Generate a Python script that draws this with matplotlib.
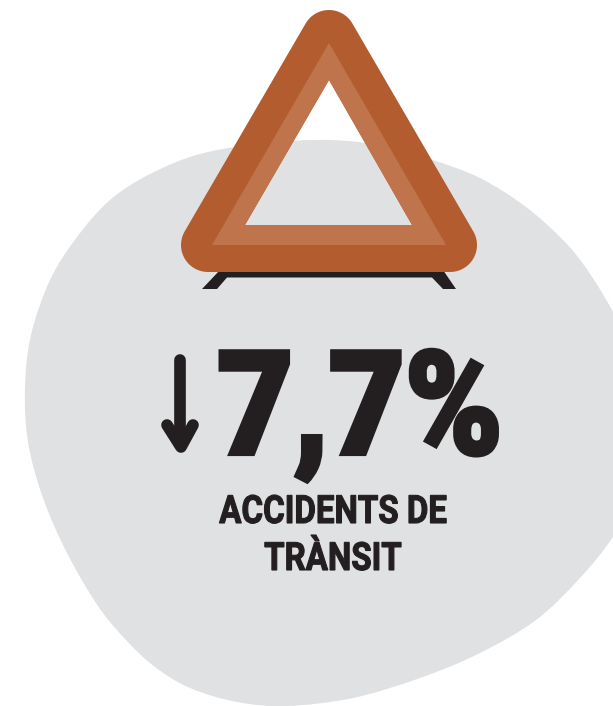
import numpy as np
import matplotlib
matplotlib.use("Agg")
import matplotlib.pyplot as plt
from matplotlib.path import Path
from matplotlib.patches import PathPatch, Polygon
from matplotlib.patheffects import AbstractPathEffect
from matplotlib.transforms import Affine2D

value_label = "7,7%"
label_lines = ["ACCIDENTS DE", "TRÀNSIT"]

# outline of the grey blob, in image pixels
blob_x = [330, 385, 430, 480, 526, 563, 586, 613, 640, 650, 640, 613, 580, 536, 480, 420, 353, 287, 237, 190, 155, 126, 98, 67, 43, 28, 25, 31, 50, 77, 110, 150, 200, 265]
blob_y = [140, 146, 159, 178, 207, 240, 268, 312, 370, 425, 490, 537, 578, 620, 653, 678, 698, 706, 702, 688, 667, 640, 606, 553, 498, 442, 387, 335, 280, 237, 200, 174, 154, 143]

# warning triangle
corner_x = [329, 450, 208]
corner_y = [37, 245, 245]
corner_r = 27
light_x = [329, 446, 212]
light_y = [43, 245, 245]
hole_x = [329, 412, 245]
hole_y = [80, 225, 225]
leg_x = [202, 217, 227, 432, 443, 456, 443, 220]
leg_y = [289, 289, 277.5, 277.5, 289, 289, 270, 270]

blob_color = "#e0e1e3"
dark_orange = "#b35c30"
light_orange = "#c0744b"
ink = "#231f20"


class SqueezeX(AbstractPathEffect):
    # the source uses a heavy condensed face that is not installed,
    # so narrow the glyphs round x = cx and thicken them with a stroke
    def __init__(self, sx, cx, stroke):
        super().__init__()
        self.sx = sx
        self.cx = cx
        self.stroke = stroke

    def draw_path(self, renderer, gc, tpath, affine, rgbFace=None):
        squeeze = Affine2D().translate(-self.cx, 0).scale(self.sx, 1).translate(self.cx, 0)
        gc0 = renderer.new_gc()
        gc0.copy_properties(gc)
        gc0.set_linewidth(self.stroke)
        gc0.set_foreground(ink)
        gc0.set_joinstyle("miter")
        renderer.draw_path(gc0, tpath, affine + squeeze, rgbFace)
        gc0.restore()


def smooth_closed(xs, ys):
    # catmull-rom through the points, as bezier segments
    p = np.column_stack([xs, ys]).astype(float)
    n = len(p)
    verts = [p[0]]
    codes = [Path.MOVETO]
    for i in range(n):
        p0, p1, p2, p3 = p[i - 1], p[i], p[(i + 1) % n], p[(i + 2) % n]
        verts += [p1 + (p2 - p0) / 6, p2 - (p3 - p1) / 6, p2]
        codes += [Path.CURVE4] * 3
    return verts, codes


def rounded_triangle(xs, ys, r):
    # outer edge of the triangle, one arc round each corner
    pts = []
    for i, start, stop in [(0, 210, 330), (1, 330, 450), (2, 90, 210)]:
        for a in np.radians(np.arange(start, stop + 1, 5)):
            pts.append((xs[i] + r * np.cos(a), ys[i] + r * np.sin(a)))
    return pts


def ring(outer, inner):
    verts = list(outer) + [outer[0]] + list(inner[::-1]) + [inner[-1]]
    codes = [Path.MOVETO] + [Path.LINETO] * (len(outer) - 1) + [Path.CLOSEPOLY]
    codes += [Path.MOVETO] + [Path.LINETO] * (len(inner) - 1) + [Path.CLOSEPOLY]
    return Path(verts, codes)


fig = plt.figure(figsize=(6.13, 7.06), dpi=100)
ax = fig.add_axes([0, 0, 1, 1])
ax.set_xlim(0, 613)
ax.set_ylim(706, 0)
ax.axis("off")

verts, codes = smooth_closed(blob_x, blob_y)
ax.add_patch(PathPatch(Path(verts, codes), facecolor=blob_color, edgecolor="none", zorder=1))

ax.add_patch(Polygon(np.column_stack([leg_x, leg_y]), facecolor=ink, edgecolor="none", zorder=2))

hole = list(zip(hole_x, hole_y))
outer = rounded_triangle(corner_x, corner_y, corner_r)
ax.add_patch(PathPatch(ring(outer, hole), facecolor=dark_orange, edgecolor="none", zorder=3))
light = list(zip(light_x, light_y))
ax.add_patch(PathPatch(ring(light, hole), facecolor=light_orange, edgecolor="none", zorder=4))

# down arrow
ax.plot([180, 180], [360, 445], color=ink, lw=8.4, solid_capstyle="round", zorder=5)
ax.plot([167, 181, 193], [425, 447, 425], color=ink, lw=8.4, solid_capstyle="round",
        solid_joinstyle="round", zorder=5)

ax.text(360, 454, value_label, family="Roboto", weight="black", fontsize=104, color=ink,
        ha="center", va="baseline", zorder=5, path_effects=[SqueezeX(0.91, 360, 3)])
ax.text(333, 523, label_lines[0], family="Roboto", weight="bold", fontsize=28, color=ink,
        ha="center", va="baseline", zorder=5, path_effects=[SqueezeX(0.85, 333, 0.8)])
ax.text(333, 570, label_lines[1], family="Roboto", weight="bold", fontsize=28, color=ink,
        ha="center", va="baseline", zorder=5, path_effects=[SqueezeX(0.85, 333, 0.8)])

fig.savefig("out.png", dpi=100)
